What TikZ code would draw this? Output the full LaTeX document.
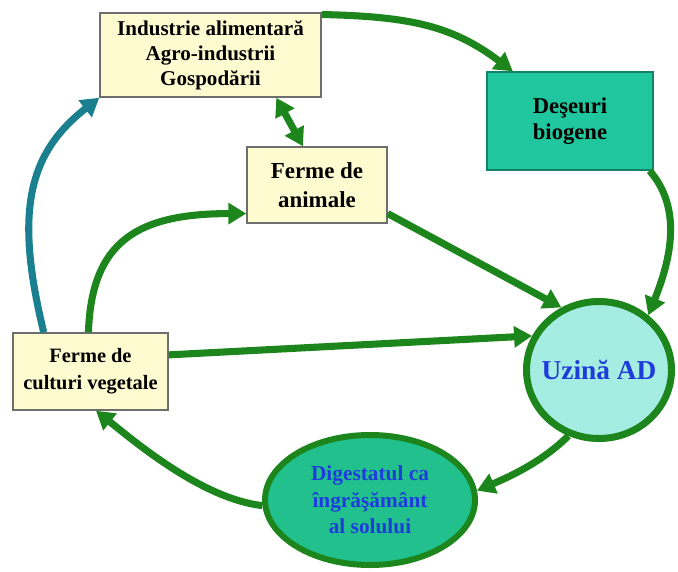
\documentclass[tikz,border=0pt]{standalone}
\usepackage{fontspec}
\setmainfont{Liberation Serif}
\usepackage{xcolor}
\usepackage{tikz}
\usetikzlibrary{arrows.meta,shapes.geometric}

\definecolor{arrowgreen}{RGB}{28,134,28}
\definecolor{arrowteal}{RGB}{26,128,143}
\definecolor{paleyellow}{RGB}{255,251,208}
\definecolor{boxgray}{RGB}{110,110,110}
\definecolor{wastefill}{RGB}{32,199,158}
\definecolor{plantfill}{RGB}{165,236,226}
\definecolor{digestfill}{RGB}{34,192,140}
\definecolor{textblue}{RGB}{30,60,220}

\tikzset{
  box/.style={draw=boxgray, line width=1.1pt, fill=paleyellow, inner sep=0.75pt, align=center},
  flow/.style={draw=arrowgreen, line width=5.3pt, -{Triangle[length=13.5pt,width=15.5pt]}},
}

\begin{document}
\begin{tikzpicture}[x=0.75pt,y=0.75pt,yscale=-1,xscale=1]

\useasboundingbox (0,0) rectangle (678,571);

% boxes

\draw (210.5,55) node [box, minimum width=165.75pt, minimum height=63pt, font=\bfseries\fontsize{15.8}{18.75}\selectfont] (ind) {Industrie alimentară\\Agro-industrii\\Gospodării};

\draw (570,121) node [box, draw={rgb,255:red,20;green,130;blue,100}, fill=wastefill, minimum width=124.5pt, minimum height=73.5pt, font=\bfseries\fontsize{17}{20}\selectfont] (des) {Deşeuri\\biogene};

\draw (317,185) node [box, minimum width=105pt, minimum height=57pt, font=\bfseries\fontsize{17.2}{21.5}\selectfont] (anim) {Ferme de\\animale};

\draw (90.5,371.5) node [box, minimum width=116.25pt, minimum height=57.75pt, font=\bfseries\fontsize{15.3}{20}\selectfont] (cult) {Ferme de\\culturi vegetale};

\draw (599,370) node [ellipse, draw=arrowgreen, line width=5.25pt, fill=plantfill, minimum width=108.75pt, minimum height=102.75pt, inner sep=0pt, text=textblue, font=\bfseries\fontsize{20.5}{24}\selectfont] (uz) {\makebox[0pt]{Uzină AD}};

\draw (370,500) node [ellipse, draw=arrowgreen, line width=4.5pt, fill=digestfill, minimum width=157.5pt, minimum height=97.5pt, inner sep=0pt, align=center, text=textblue, font=\bfseries\fontsize{16}{20}\selectfont] (dig) {Digestatul ca\\îngrăşământ\\al solului};

% arrows

\draw [flow] (ind.20) .. controls +(90,2) and +(-60,-45) .. (des.139) ;

\draw [flow] (des.-32) .. controls +(35,40) and +(20,-50) .. (uz.48) ;

\draw [flow] (anim.-22) -- (uz.121) ;

\draw [flow] (cult.12) -- (uz.153) ;

\draw [flow] (cult.93) .. controls +(3,-90) and +(-110,0) .. (anim.202) ;

\draw [flow, draw=arrowteal] (cult.140) .. controls +(-30,-123) and +(-70,55) .. (ind.south west) ;

\draw [flow, {Triangle[length=13.5pt,width=15.5pt]}-{Triangle[length=13.5pt,width=15.5pt]}] (ind.-33) -- (anim.110) ;

\draw [flow] (uz.245) .. controls +(-25,25) and +(35,-15) .. (dig.5) ;

\draw [flow] (dig.183) .. controls +(-60,-7) and +(40,32) .. (cult.278) ;

\end{tikzpicture}
\end{document}
